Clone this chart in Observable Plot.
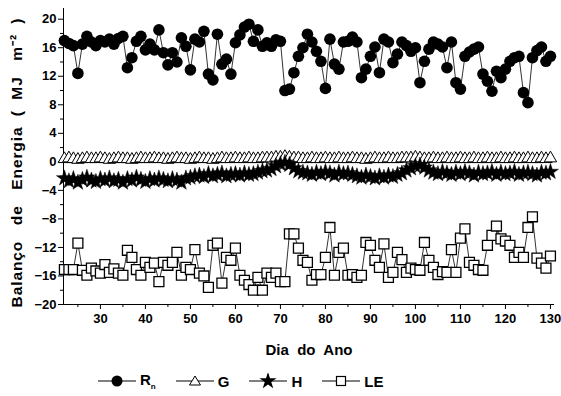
<!DOCTYPE html>
<html>
<head>
<meta charset="utf-8">
<script src="https://cdn.jsdelivr.net/npm/d3@7"></script>
<script src="https://cdn.jsdelivr.net/npm/@observablehq/plot@0.6"></script>
<style>
  html, body { margin: 0; padding: 0; background: #fff; }
  body { width: 561px; height: 396px; overflow: hidden; font-family: "Liberation Sans", Arial, sans-serif; }
  svg text { white-space: pre; }
  #legend { display: flex; align-items: center; height: 30px; padding-left: 98px; font-weight: bold; font-size: 15px; color: #000; }
  #legend .item { display: flex; align-items: center; margin-right: 20px; }
  #legend svg { margin-right: 4px; }
</style>
</head>
<body>
<div id="chart"></div>
<div id="legend"></div>
<script>
const days = d3.range(22, 131);

const rn = [17.0,16.6,16.3,12.4,16.5,17.6,16.8,16.3,17.0,16.8,17.2,16.5,17.3,17.6,13.2,14.6,16.9,17.6,15.7,16.5,
  15.7,18.5,15.3,13.6,15.3,14.0,17.4,16.2,12.9,17.2,16.8,18.3,12.3,11.5,17.9,13.7,14.4,12.3,16.7,17.8,
  18.9,19.3,16.9,18.5,16.2,16.7,16.2,17.1,16.9,10.0,10.2,12.5,14.8,16.0,17.9,16.8,15.5,14.1,10.3,17.2,
  13.7,13.0,16.8,16.9,17.5,16.8,11.8,13.0,14.8,16.1,12.5,17.2,16.8,13.9,15.1,16.8,16.3,15.5,16.0,11.1,
  14.1,15.8,16.8,16.5,16.1,13.2,16.8,11.1,10.2,14.8,15.4,15.8,16.1,12.3,11.3,9.9,12.7,11.8,13.0,14.1,
  14.6,14.8,9.7,8.3,14.6,15.6,16.1,14.1,14.8];

const g = [0.4,0.5,0.4,0.3,0.4,0.5,0.4,0.4,0.5,0.4,0.3,0.4,0.5,0.4,0.4,0.3,0.4,0.5,0.4,0.4,
  0.5,0.4,0.4,0.3,0.4,0.5,0.4,0.4,0.3,0.4,0.5,0.4,0.4,0.3,0.4,0.5,0.4,0.4,0.5,0.4,
  0.4,0.5,0.4,0.4,0.5,0.5,0.5,0.6,0.6,0.7,0.6,0.5,0.5,0.4,0.4,0.5,0.4,0.4,0.5,0.4,
  0.4,0.5,0.4,0.4,0.5,0.4,0.4,0.3,0.4,0.5,0.4,0.4,0.5,0.4,0.4,0.5,0.5,0.5,0.6,0.5,
  0.4,0.4,0.5,0.4,0.4,0.5,0.4,0.4,0.5,0.4,0.4,0.5,0.4,0.4,0.5,0.4,0.4,0.5,0.4,0.4,
  0.5,0.4,0.4,0.5,0.4,0.4,0.5,0.4,0.5];

const h = [-2.3,-2.7,-2.4,-2.9,-2.5,-2.2,-2.6,-2.8,-2.4,-2.6,-2.3,-2.7,-2.5,-2.9,-2.4,-2.6,-2.2,-2.5,-2.8,-2.4,
  -2.6,-2.3,-2.5,-2.7,-2.4,-2.6,-2.9,-2.3,-2.2,-2.0,-1.9,-2.1,-1.7,-2.0,-1.8,-1.6,-2.0,-1.8,-1.7,-1.9,
  -1.6,-1.8,-1.7,-1.5,-1.3,-1.2,-1.0,-0.6,-0.3,-0.1,-0.4,-0.9,-1.3,-1.5,-1.6,-1.8,-1.5,-1.7,-1.4,-1.6,
  -1.9,-1.5,-1.7,-1.6,-1.8,-2.0,-2.2,-1.9,-2.1,-2.3,-2.0,-2.2,-1.9,-2.1,-1.8,-1.6,-1.2,-0.9,-0.6,-0.5,
  -0.8,-1.2,-1.5,-1.7,-1.4,-1.6,-1.8,-1.5,-1.7,-1.4,-1.6,-1.9,-1.5,-1.7,-1.6,-1.4,-1.8,-1.5,-1.7,-1.6,
  -1.4,-1.8,-1.6,-1.5,-1.7,-1.9,-1.5,-1.6,-1.4];

const le = [-15.1,-15.1,-15.1,-11.4,-15.2,-15.9,-14.9,-15.3,-15.6,-14.4,-15.5,-15.0,-15.6,-15.9,-12.4,-13.4,-15.1,-15.9,-14.1,-14.8,
  -14.2,-16.8,-14.1,-14.5,-14.1,-12.7,-15.9,-14.8,-15.1,-12.3,-15.6,-16.0,-17.6,-11.7,-11.4,-17.0,-13.4,-13.8,-12.1,-15.9,
  -16.6,-17.2,-18.0,-16.2,-18.0,-15.6,-16.2,-15.6,-16.8,-16.8,-10.1,-10.1,-12.1,-13.8,-14.1,-16.6,-15.8,-15.8,-13.4,-9.2,
  -15.9,-12.7,-12.1,-15.9,-15.8,-16.2,-15.9,-11.3,-11.7,-13.8,-14.8,-11.5,-16.2,-15.5,-12.7,-13.7,-15.5,-14.9,-15.1,-15.2,
  -11.3,-13.8,-14.8,-15.8,-15.4,-15.5,-12.3,-15.5,-10.7,-9.4,-14.1,-14.5,-15.1,-15.2,-11.7,-10.3,-9.0,-10.8,-11.1,-11.7,
  -13.4,-12.7,-13.4,-9.2,-7.7,-13.5,-14.2,-14.9,-13.2];

const xTicks = [30, 40, 50, 60, 70, 80, 90, 100, 110, 120, 130];
const xMinor = [25, 35, 45, 55, 65, 75, 85, 95, 105, 115, 125];
const yTicks = [-20, -16, -12, -8, -4, 0, 4, 8, 12, 16, 20];
const yMinor = [-18, -14, -10, -6, -2, 2, 6, 10, 14, 18];
const seriesNames = ["Rn", "G", "H", "LE"];

const rows = (vals) => days.map((d, i) => ({day: d, v: vals[i]}));
const dRn = rows(rn), dG = rows(g), dH = rows(h), dLE = rows(le);

const font = {fontSize: 13, fontWeight: "bold"};
const lineStyle = {x: "day", y: "v", stroke: "#333", strokeWidth: 1};

const plot = Plot.plot({
  width: 561,
  height: 366,
  marginLeft: 63,
  marginRight: 7,
  marginTop: 8,
  marginBottom: 62,
  style: {fontFamily: "'Liberation Sans', Arial, sans-serif", color: "#000", background: "#fff"},
  x: {domain: [21.8, 130.9]},
  y: {domain: [-20, 21.5]},
  marks: [
    Plot.axisX({ticks: xTicks, tickSize: 5, tickPadding: 4, label: null, ...font}),
    Plot.axisX({ticks: xMinor, tickSize: 3, tickFormat: () => "", label: null}),
    Plot.axisY({ticks: yTicks, tickSize: 5, tickPadding: 2, label: null, ...font}),
    Plot.axisY({ticks: yMinor, tickSize: 3, tickFormat: () => "", label: null}),
    Plot.ruleY([-20], {stroke: "#000", strokeWidth: 1}),
    Plot.ruleX([21.8], {stroke: "#000", strokeWidth: 1}),
    Plot.line(dRn, lineStyle),
    Plot.dot(dRn, {x: "day", y: "v", r: 5.8, fill: "#000", stroke: "none"}),
    Plot.line(dG, lineStyle),
    Plot.dot(dG, {x: "day", y: "v", symbol: "triangle", r: 4.6, fill: "#fff", stroke: "#000", strokeWidth: 1}),
    Plot.line(dH, lineStyle),
    Plot.dot(dH, {x: "day", y: "v", symbol: "star", r: 5, fill: "#000", stroke: "#000", strokeWidth: 0.5}),
    Plot.line(dLE, lineStyle),
    Plot.dot(dLE, {x: "day", y: "v", symbol: "square", r: 5.6, fill: "#fff", stroke: "#000", strokeWidth: 1.3}),
    Plot.text(["Dia  do  Ano"], {text: d => d, frameAnchor: "bottom", dy: 50, fontSize: 15, fontWeight: "bold", fill: "#000"}),
    Plot.text(["Balanço   de   Energia  (  MJ   m⁻²  )"], {text: d => d, frameAnchor: "left", textAnchor: "middle", dx: -46, dy: 6, rotate: -90, fontSize: 15.5, fontWeight: "bold", fill: "#000"})
  ]
});
d3.select(plot).selectAll("text").filter(function() { return this.textContent.startsWith("Balanço"); })
  .style("letter-spacing", "0.9px");
document.getElementById("chart").appendChild(plot);

// Legend
const legend = document.getElementById("legend");
const icons = {
  Rn: '<circle cx="19" cy="8" r="5.5" fill="#000"/>',
  G: '<path d="M19 3 L24.5 12 L13.5 12 Z" fill="#fff" stroke="#000" stroke-width="1"/>',
  H: '<path transform="translate(19,8)" d="' + d3.symbol(d3.symbolStar, 90)() + '" fill="#000"/>',
  LE: '<rect x="14.5" y="3.5" width="9" height="9" fill="#fff" stroke="#000" stroke-width="1.2"/>'
};
const labels = {Rn: 'R<sub style="font-size:8px">n</sub>', G: "G", H: "H", LE: "LE"};
seriesNames.forEach(name => {
  const item = document.createElement("div");
  item.className = "item";
  item.innerHTML = '<svg width="38" height="16"><line x1="0" y1="8" x2="38" y2="8" stroke="#000" stroke-width="1"/>' + icons[name] + '</svg><span>' + labels[name] + '</span>';
  legend.appendChild(item);
});
</script>
</body>
</html>
